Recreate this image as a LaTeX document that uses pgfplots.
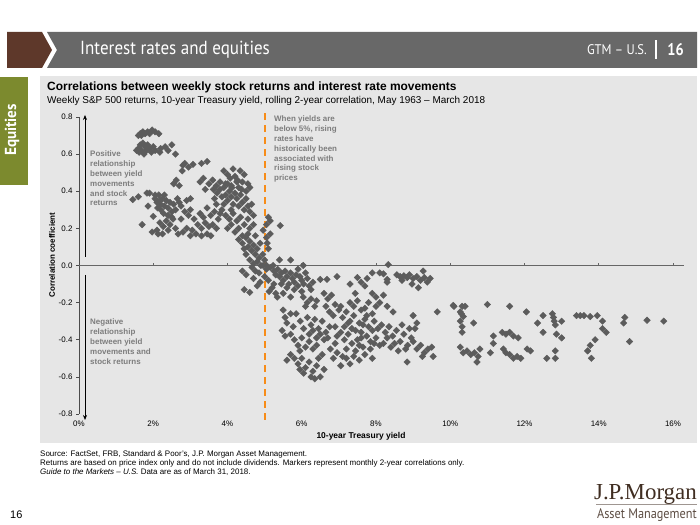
\documentclass[border=0pt]{standalone}
\usepackage{pgfplots}
\pgfplotsset{compat=1.18}
\usepackage{fontspec}
\usepackage{graphicx}
\setmainfont{Liberation Sans}
\newfontfamily\hdrfont{PT Sans}
\newfontfamily\seriffont{Liberation Serif}
\usetikzlibrary{arrows.meta}
\definecolor{panel}{RGB}{230,230,230}
\definecolor{hdrgrey}{RGB}{104,104,104}
\definecolor{brownblk}{RGB}{94,56,42}
\definecolor{olivetab}{RGB}{124,138,46}
\definecolor{markgrey}{RGB}{92,92,92}
\definecolor{annot}{RGB}{125,125,125}
\definecolor{orangeline}{RGB}{247,140,24}
\definecolor{jpm}{RGB}{64,46,34}
\begin{document}
\begin{tikzpicture}[x=1bp,y=1bp]
\useasboundingbox[fill=white] (0,0) rectangle (700,525);
% header
\fill[brownblk] (7,493) -- (42,493) -- (52,475) -- (42,457) -- (7,457) -- cycle;
\fill[hdrgrey] (47,493) -- (697,493) -- (697,457) -- (47,457) -- (57,475) -- cycle;
\node[anchor=west, text=white, inner sep=0, font=\hdrfont\fontsize{19}{19}\selectfont] at (80,475) {\scalebox{0.9}[1]{Interest rates and equities}};
\node[anchor=east, text=white, inner sep=0, font=\hdrfont\fontsize{14}{14}\selectfont] at (647,475) {\scalebox{0.9}[1]{GTM – U.S.}};
\draw[white, line width=1.2bp] (656,466) -- (656,485);
\node[anchor=east, text=white, inner sep=0, font=\hdrfont\bfseries\fontsize{17}{17}\selectfont] at (684,475) {\scalebox{0.85}[1]{16}};
% side tab
\fill[olivetab] (0,448) rectangle (28,340);
\node[rotate=90, text=white, font=\hdrfont\bfseries\fontsize{16}{16}\selectfont] at (12,395) {\scalebox{0.95}[1]{Equities}};
% panel
\fill[panel] (40,449) rectangle (697,82);
\node[anchor=base west, inner sep=0, font=\bfseries\fontsize{12}{13}\selectfont] at (47,434) {Correlations between weekly stock returns and interest rate movements};
\node[anchor=base west, inner sep=0, font=\fontsize{10}{11}\selectfont] at (47,421) {Weekly S\&P 500 returns, 10-year Treasury yield, rolling 2-year correlation, May 1963 -- March 2018};
\begin{axis}[
  at={(79bp,111bp)}, anchor=south west,
  scale only axis, width=594bp, height=297bp,
  xmin=0, xmax=16, ymin=-0.8, ymax=0.8,
  axis lines*=left,
  x axis line style={draw=none},
  y axis line style={draw=black!70, line width=0.6pt},
  xtick={0,2,4,6,8,10,12,14,16},
  xticklabels={0\%,2\%,4\%,6\%,8\%,10\%,12\%,14\%,16\%},
  ytick={-0.8,-0.6,-0.4,-0.2,0,0.2,0.4,0.6,0.8},
  yticklabels={-0.8,-0.6,-0.4,-0.2,0.0,0.2,0.4,0.6,0.8},
  x tick style={draw=none},
  y tick style={draw=black!70, line width=0.6pt},
  major tick length=3bp,
  tick align=outside,
  tick label style={font=\fontsize{8}{9}\selectfont},
  /pgf/number format/assume math mode=true,
  clip=false,
]
\draw[black!60, line width=0.8pt] (axis cs:0,0) -- (axis cs:16.3,0);
\pgfplotsinvokeforeach{2,4,6,8,10,12,14,16}{\draw[black!60, line width=0.6pt] (axis cs:#1,0) -- (axis cs:#1,0.014);}
\addplot[only marks, mark=square*, mark size=2.3bp, color=markgrey, mark options={rotate=45, fill=markgrey, draw=markgrey}] table {
x y
1.60 0.70
1.65 0.71
1.72 0.72
1.78 0.71
1.85 0.72
1.90 0.71
1.97 0.73
2.05 0.72
2.15 0.71
1.68 0.70
1.55 0.62
1.60 0.63
1.65 0.65
1.68 0.62
1.72 0.66
1.78 0.64
1.82 0.62
1.85 0.65
1.90 0.63
1.95 0.61
2.00 0.64
2.05 0.62
1.75 0.60
1.62 0.61
2.20 0.63
2.32 0.64
2.50 0.65
2.18 0.61
2.60 0.60
2.40 0.62
2.80 0.54
2.85 0.55
3.07 0.545
3.30 0.55
3.45 0.56
2.78 0.51
2.95 0.53
2.55 0.44
2.62 0.46
2.70 0.43
3.26 0.45
3.35 0.47
3.50 0.44
3.60 0.46
3.70 0.43
3.80 0.45
3.62 0.41
3.40 0.41
3.90 0.51
4.00 0.49
4.07 0.47
4.15 0.52
4.20 0.48
4.27 0.46
4.34 0.51
4.40 0.45
4.45 0.49
4.55 0.44
4.60 0.42
3.95 0.44
4.10 0.43
4.30 0.42
1.45 0.355
1.60 0.37
1.83 0.39
1.90 0.39
2.05 0.38
1.86 0.32
1.70 0.22
2.00 0.265
1.97 0.18
2.13 0.17
2.18 0.23
2.05 0.36
2.10 0.34
2.15 0.38
2.20 0.33
2.25 0.36
2.30 0.32
2.35 0.35
2.40 0.31
2.45 0.34
2.50 0.29
2.55 0.33
2.60 0.30
2.65 0.36
2.20 0.30
2.30 0.38
2.12 0.31
2.40 0.27
2.50 0.26
2.28 0.28
2.18 0.35
2.70 0.34
2.75 0.32
2.90 0.35
3.00 0.36
2.85 0.29
2.27 0.21
2.35 0.24
2.45 0.22
2.53 0.25
2.10 0.19
2.25 0.17
2.40 0.19
2.60 0.20
2.67 0.17
2.80 0.18
2.90 0.20
3.00 0.16
3.05 0.19
2.75 0.25
2.95 0.27
3.20 0.22
3.30 0.20
3.40 0.23
3.50 0.21
3.60 0.22
3.70 0.20
3.26 0.28
3.35 0.26
3.45 0.31
3.55 0.27
3.65 0.29
3.75 0.25
3.80 0.28
3.15 0.17
3.30 0.16
3.45 0.17
3.55 0.16
3.10 0.25
3.00 0.30
3.65 0.36
3.72 0.39
3.80 0.41
3.85 0.37
3.90 0.42
3.95 0.38
4.00 0.35
4.05 0.40
4.10 0.37
4.15 0.33
4.20 0.39
4.25 0.36
4.30 0.32
4.35 0.38
4.40 0.34
4.45 0.30
4.50 0.36
4.55 0.32
4.60 0.29
4.65 0.33
4.70 0.27
3.90 0.33
4.00 0.44
4.12 0.42
4.38 0.41
4.50 0.40
3.70 0.33
4.25 0.45
4.10 0.30
3.85 0.30
3.95 0.27
4.05 0.25
4.15 0.28
4.25 0.24
4.35 0.26
4.00 0.20
4.10 0.22
4.20 0.18
4.30 0.20
4.40 0.16
4.45 0.22
4.55 0.25
4.60 0.20
4.70 0.22
4.30 0.14
4.40 0.12
4.50 0.15
4.55 0.10
4.60 0.13
4.65 0.08
4.70 0.11
4.75 0.06
4.80 0.09
4.85 0.04
4.50 0.06
4.60 0.03
4.70 0.01
4.80 0.02
4.90 0.00
4.45 0.09
4.88 0.12
4.55 0.17
4.75 0.16
4.95 0.06
4.96 0.19
5.05 0.22
5.10 0.26
5.15 0.17
5.42 0.215
5.07 0.12
5.10 0.09
5.05 0.15
5.15 0.24
5.00 0.03
5.05 0.00
4.40 -0.03
4.50 -0.05
4.60 -0.145
4.45 -0.13
4.66 -0.01
4.75 -0.03
4.85 -0.04
4.88 -0.09
4.96 0.00
5.05 -0.02
5.15 -0.01
5.23 0.00
5.10 -0.08
5.20 -0.12
5.25 -0.10
5.30 -0.15
5.34 -0.17
5.40 0.03
5.70 0.03
6.04 0.00
4.70 -0.07
4.80 -0.11
5.12 -0.14
5.00 -0.06
5.25 -0.03
5.30 -0.05
5.35 -0.02
5.40 -0.06
5.45 -0.04
5.50 -0.08
5.55 -0.03
5.60 -0.06
5.65 -0.10
5.70 -0.04
5.75 -0.07
5.80 -0.09
5.85 -0.05
5.90 -0.11
5.95 -0.06
6.00 -0.08
6.05 -0.10
6.10 -0.04
6.15 -0.07
6.20 -0.11
6.30 -0.09
5.50 -0.15
5.70 -0.17
5.60 -0.12
5.80 -0.13
6.00 -0.14
6.25 -0.13
5.45 -0.10
5.90 -0.02
5.50 -0.24
5.55 -0.28
5.60 -0.31
5.70 -0.26
5.77 -0.33
5.47 -0.35
5.55 -0.38
6.04 -0.17
6.15 -0.20
6.25 -0.18
6.35 -0.22
6.40 -0.19
6.10 -0.22
6.50 -0.075
6.68 -0.075
6.95 -0.06
6.60 -0.15
6.70 -0.18
6.80 -0.16
6.90 -0.21
7.00 -0.24
6.75 -0.25
6.85 -0.27
6.65 -0.22
6.15 -0.28
6.25 -0.32
6.35 -0.29
6.45 -0.34
6.55 -0.30
6.65 -0.36
6.75 -0.33
6.20 -0.37
6.40 -0.39
6.60 -0.40
6.30 -0.35
6.50 -0.37
6.70 -0.39
5.96 -0.30
6.05 -0.34
5.85 -0.26
6.90 -0.33
6.95 -0.38
5.70 -0.37
5.80 -0.40
5.90 -0.43
6.00 -0.39
6.10 -0.44
6.20 -0.41
6.30 -0.45
5.95 -0.46
6.40 -0.43
5.60 -0.51
5.70 -0.48
5.80 -0.50
5.90 -0.53
6.00 -0.50
6.10 -0.55
6.20 -0.52
6.30 -0.57
6.40 -0.54
6.50 -0.60
6.60 -0.56
6.05 -0.58
6.25 -0.60
5.95 -0.56
6.45 -0.50
6.55 -0.48
6.35 -0.61
6.77 -0.45
6.85 -0.50
6.95 -0.47
7.05 -0.54
7.10 -0.49
6.90 -0.42
7.05 -0.22
7.10 -0.28
7.15 -0.33
7.20 -0.25
7.25 -0.37
7.30 -0.30
7.35 -0.42
7.40 -0.27
7.45 -0.35
7.50 -0.40
7.55 -0.31
7.60 -0.36
7.65 -0.44
7.70 -0.29
7.75 -0.38
7.80 -0.33
7.85 -0.41
7.90 -0.35
7.95 -0.30
8.00 -0.39
8.05 -0.34
8.10 -0.43
7.30 -0.20
7.40 -0.22
7.60 -0.24
7.80 -0.20
7.50 -0.19
7.70 -0.23
7.90 -0.26
8.00 -0.22
7.20 -0.45
7.45 -0.46
7.55 -0.43
7.15 -0.40
7.35 -0.34
7.65 -0.32
7.85 -0.45
7.05 -0.36
7.25 -0.31
7.60 -0.39
7.75 -0.27
7.95 -0.42
7.20 -0.50
7.40 -0.49
7.55 -0.51
7.70 -0.48
7.90 -0.50
7.30 -0.53
7.30 -0.10
7.50 -0.065
7.60 -0.09
7.70 -0.11
7.76 -0.07
7.44 -0.15
7.90 -0.04
8.10 -0.04
8.20 -0.045
8.30 -0.075
8.33 0.005
8.30 -0.09
7.90 -0.15
8.00 -0.17
8.20 -0.16
8.10 -0.20
8.30 -0.22
8.46 -0.25
8.56 -0.05
8.65 -0.06
8.75 -0.055
8.84 -0.065
8.90 -0.05
9.00 -0.07
9.10 -0.06
9.20 -0.08
9.30 -0.065
9.38 -0.09
9.46 -0.07
8.97 -0.10
9.14 -0.12
9.27 -0.03
8.70 -0.08
8.15 -0.32
8.25 -0.36
8.35 -0.33
8.45 -0.38
8.55 -0.35
8.65 -0.41
8.75 -0.37
8.85 -0.43
8.95 -0.39
8.20 -0.42
8.40 -0.44
8.60 -0.46
8.80 -0.45
8.30 -0.39
8.50 -0.42
8.70 -0.32
8.90 -0.34
9.00 -0.27
9.10 -0.31
9.05 -0.34
9.00 -0.41
9.10 -0.45
9.20 -0.43
9.30 -0.47
9.40 -0.45
9.50 -0.44
9.54 -0.49
9.25 -0.49
8.84 -0.52
9.65 -0.25
10.08 -0.215
10.32 -0.22
10.40 -0.22
10.30 -0.26
10.35 -0.275
11.00 -0.21
11.60 -0.22
12.05 -0.25
10.63 -0.31
10.32 -0.33
10.32 -0.36
11.16 -0.38
11.16 -0.42
11.40 -0.36
11.50 -0.37
11.60 -0.36
11.70 -0.38
11.83 -0.39
10.27 -0.44
10.35 -0.47
10.45 -0.46
10.55 -0.48
10.65 -0.47
10.80 -0.45
10.75 -0.49
10.72 -0.52
11.08 -0.47
11.43 -0.45
11.50 -0.47
11.60 -0.48
11.70 -0.50
11.80 -0.49
11.90 -0.50
12.07 -0.45
12.16 -0.46
12.50 -0.27
12.35 -0.31
12.75 -0.26
12.78 -0.28
12.80 -0.30
12.83 -0.32
13.00 -0.30
12.50 -0.36
12.86 -0.37
13.00 -0.39
12.60 -0.50
12.83 -0.46
12.83 -0.50
13.40 -0.27
13.50 -0.27
13.60 -0.27
13.77 -0.275
13.96 -0.27
14.10 -0.30
14.10 -0.34
14.20 -0.36
13.90 -0.40
13.77 -0.43
13.70 -0.46
13.80 -0.50
14.70 -0.28
14.67 -0.31
14.83 -0.41
15.30 -0.295
15.75 -0.30
10.10 -0.22
10.27 -0.25
10.27 -0.30
};
\draw[orangeline, line width=2.2bp, dash pattern=on 7bp off 5bp] (axis cs:5,-0.83) -- (axis cs:5,0.83);
\end{axis}
% arrows
\draw[-{Stealth[length=5bp,width=4bp]}, line width=0.7bp] (85,268) -- (85,410);
\draw[-{Stealth[length=5bp,width=4bp]}, line width=0.7bp] (85,250) -- (85,105);
% annotations
\node[anchor=north west, inner sep=0, align=left, text=annot, font=\bfseries\fontsize{8}{9.8}\selectfont] at (90,374) {Positive\\relationship\\between yield\\movements\\and stock\\returns};
\node[anchor=north west, inner sep=0, align=left, text=annot, font=\bfseries\fontsize{8}{9.8}\selectfont] at (90,206) {Negative\\relationship\\between yield\\movements and\\stock returns};
\node[anchor=north west, inner sep=0, align=left, text=annot, font=\bfseries\fontsize{8}{9.8}\selectfont] at (274,409) {When yields are\\below 5\%, rising\\rates have\\historically been\\associated with\\rising stock\\prices};
% axis labels
\node[rotate=90, font=\bfseries\fontsize{8}{10}\selectfont] at (52,270) {Correlation coefficient};
\node[font=\bfseries\fontsize{8.5}{10}\selectfont] at (361,89) {10-year Treasury yield};
% footnotes
\node[anchor=base west, inner sep=0, font=\fontsize{8}{9}\selectfont] at (40,68) {Source: FactSet, FRB, Standard \& Poor's, J.P. Morgan Asset Management.};
\node[anchor=base west, inner sep=0, font=\fontsize{8}{9}\selectfont] at (40,59) {Returns are based on price index only and do not include dividends. Markers represent monthly 2-year correlations only.};
\node[anchor=base west, inner sep=0, font=\fontsize{8}{9}\selectfont] at (40,50) {\textit{Guide to the Markets -- U.S.} Data are as of March 31, 2018.};
% page number
\node[anchor=base west, inner sep=0, font=\fontsize{11}{11}\selectfont] at (10,6) {16};
% logo
\node[anchor=base east, inner sep=0, text=jpm, font=\seriffont\fontsize{23}{23}\selectfont] at (697,25) {J.P.Morgan};
\draw[jpm!50, line width=0.5bp] (596,21) -- (697,21);
\node[anchor=base east, inner sep=0, text=jpm!85, font=\hdrfont\fontsize{14}{14}\selectfont] at (697,6) {\scalebox{0.88}[1]{Asset Management}};
\end{tikzpicture}
\end{document}
